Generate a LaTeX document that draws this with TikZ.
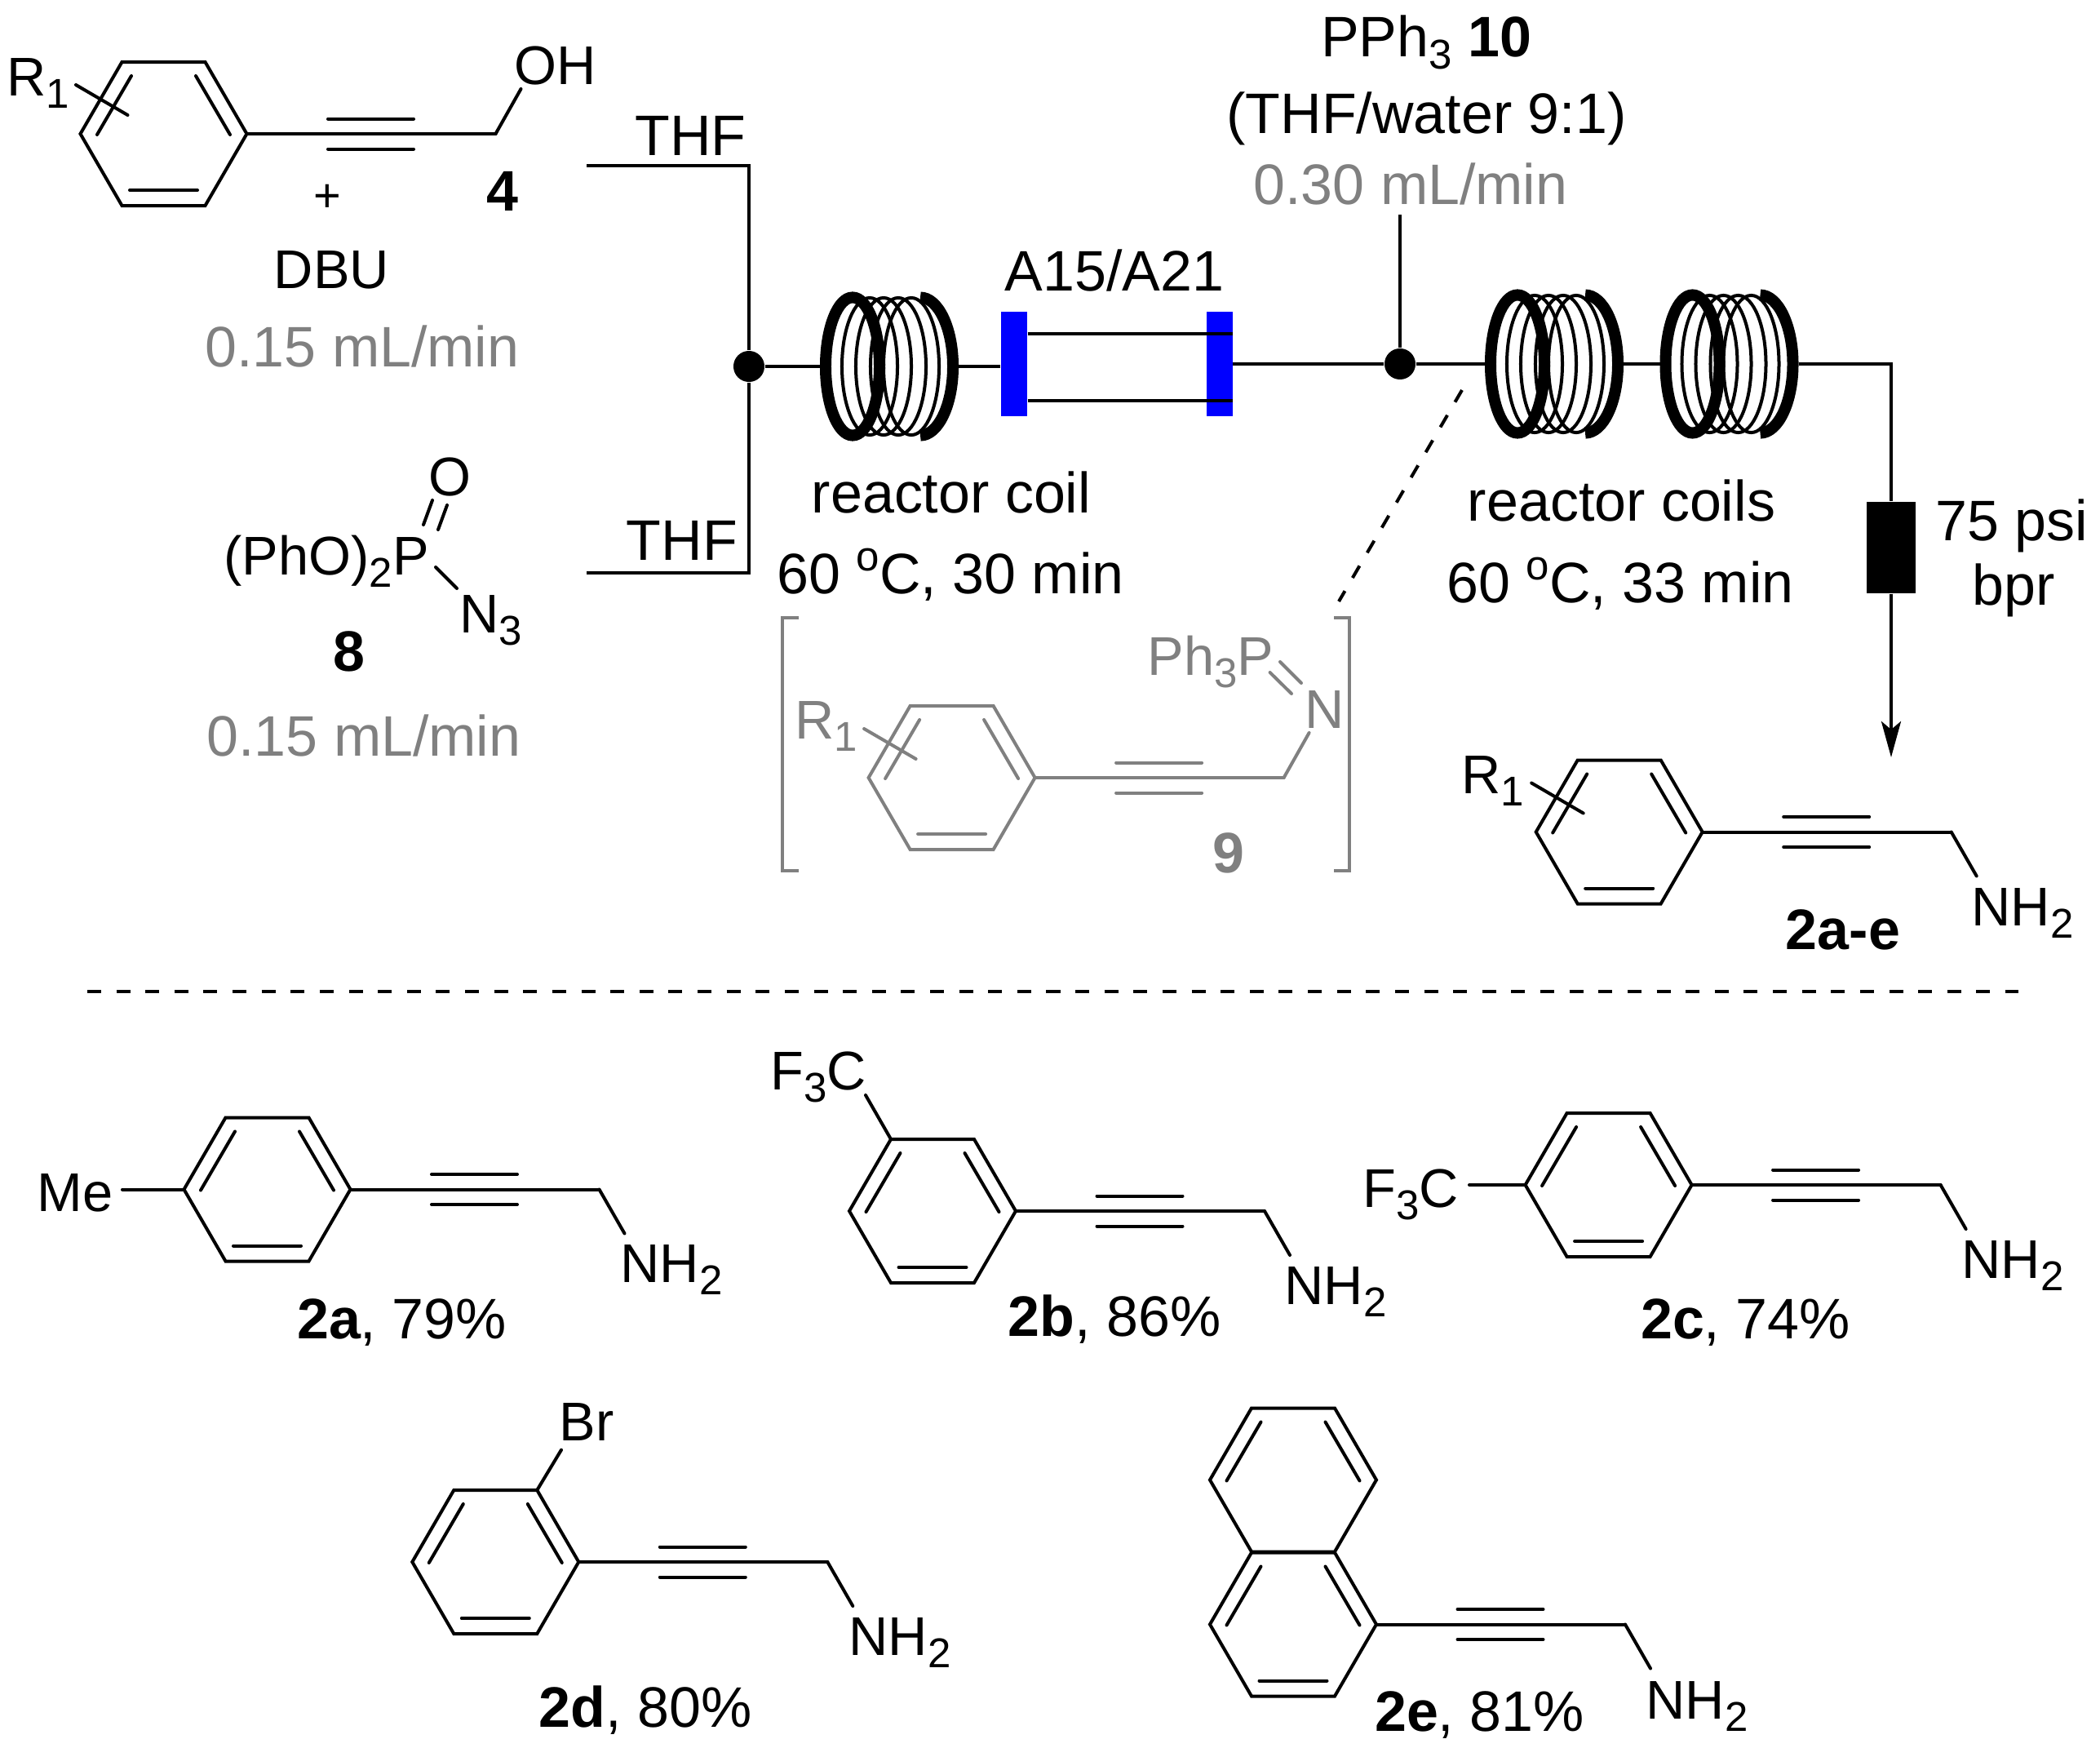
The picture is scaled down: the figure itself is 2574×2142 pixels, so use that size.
\documentclass[tikz,border=0pt]{standalone}
\usepackage{fontspec}
\setmainfont{Liberation Sans}
\usetikzlibrary{arrows.meta}
\newcommand{\lowsub}[1]{\raisebox{-.15cm}{\fontsize{14.5}{14}\selectfont #1}}
\newcommand{\degsign}{\raisebox{.27cm}{\fontsize{14.5}{14}\selectfont o}}
\definecolor{chemgrey}{HTML}{808080}
\begin{document}
\begin{tikzpicture}
	    [x=.01cm, y=-.01cm,
	    bond/.style={line width=.04cm, line cap=round},
	    flow/.style={line width=.04cm},
	    chem/.style={inner sep=0pt, anchor=base west, font=\fontsize{19}{22}\selectfont},
	    legend/.style={inner sep=0pt, anchor=base, font=\fontsize{19.9}{22}\selectfont},
	    joint/.style={circle, fill=black, inner sep=0pt, minimum size=.38cm},
	    resin/.style={fill=blue, inner sep=0pt, minimum width=.32cm, minimum height=1.28cm},
	    cutdash/.style={line width=.04cm, dash pattern=on .17cm off .186cm},
	    ring/.pic={
	        \coordinate (-tl) at (-51,-88);
	        \coordinate (-tr) at (51,-88);
	        \coordinate (-right) at (102,0);
	        \coordinate (-left) at (-102,0);
	        \coordinate (-xa) at (-107.5,-60);
	        \coordinate (-xb) at (-44,-23);
	        \draw[bond, line cap=butt] (-51,-88) -- (51,-88) -- (102,0) -- (51,88) -- (-51,88) -- (-102,0) -- cycle;
	        \draw[bond] (-39.5,-71) -- (-81.5,1);
	        \draw[bond] (39.5,-71) -- (81.5,1);
	    },
	    lowbond/.pic={\draw[bond] (-41.5,69) -- (41.5,69);},
	    chain/.pic={
	        \coordinate (-end) at (305,0);
	        \coordinate (-up) at (336,-55);
	        \coordinate (-down) at (336,54);
	        \draw[bond] (0,0) -- (305,0);
	        \draw[bond] (99.5,-18.5) -- (204.5,-18.5);
	        \draw[bond] (99.5,18.5) -- (204.5,18.5);
	    },
	    coil/.pic={
	        \coordinate (-in) at (-40,0);
	        \coordinate (-out) at (130,0);
	        \foreach \cx in {21,38,56,72}
	            \draw[line width=.04cm] (\cx,0) ellipse [x radius=.34cm, y radius=.84cm];
	        \draw[line width=.14cm] (0,0) ellipse [x radius=.33cm, y radius=.845cm];
	        \draw[line width=.14cm] (83,-84.5) arc [start angle=90, end angle=-90, x radius=.4cm, y radius=.845cm];
	    }]
	    \useasboundingbox (0,0) rectangle (2574,2142);
	    % flow path
	    \coordinate (feedA) at (719,203);
	    \coordinate (feedB) at (719,702);
	    \coordinate (feedC) at (1716,263);
	    \coordinate (turn) at (2318,446);
	    \coordinate (tip) at (2318,928);
	    \node[joint] (mixA) at (918,449) {};
	    \node[joint] (mixB) at (1716,446) {};
	    \pic (coilA) at (1045,449) {coil};
	    \pic (coilB) at (1860,446) {coil};
	    \pic (coilC) at (2074.5,446) {coil};
	    \node[resin] (resinL) at (1243,446) {};
	    \node[resin] (resinR) at (1494.6,446) {};
	    \node[fill=black, inner sep=0pt, minimum width=.6cm, minimum height=1.12cm] (bpr) at (2318,671) {};
	    \draw[flow] (feedA) -| (mixA);
	    \draw[flow] (feedB) -| (mixA);
	    \draw[flow] (mixA) -- (coilA-in);
	    \draw[flow] (coilA-out) -- (coilA-out -| resinL.west);
	    \draw[flow] ([yshift=.37cm]resinL.east) -- ([yshift=.37cm]resinR.east);
	    \draw[flow] ([yshift=-.45cm]resinL.east) -- ([yshift=-.45cm]resinR.east);
	    \draw[flow] (resinR) -- (mixB);
	    \draw[flow] (feedC) -- (mixB);
	    \draw[flow] (mixB) -- (coilB-in);
	    \draw[flow] (coilB-out) -- (coilC-in);
	    \draw[flow] (coilC-out) -- (turn) -- (bpr);
	    \draw[flow, -{Stealth[length=.44cm, width=.24cm, inset=.1cm]}] (bpr) -- (tip);
	    % flow labels
	    \node[legend] (THF1) at (846.5,190) {THF};
	    \node[legend] (THF2) at (836,686) {THF};
	    \node[legend] (PPh) at (1748,69) {PPh\lowsub{3} \textbf{10}};
	    \node[legend] (solv) at (1748.5,163) {(THF/water 9:1)};
	    \node[legend, chemgrey] (rateC) at (1729,250) {0.30 mL/min};
	    \node[legend] (A15) at (1366,356) {A15/A21};
	    \node[legend] (coil1) at (1166,628) {reactor coil};
	    \node[legend] (temp1) at (1165,727) {60 \degsign{}C, 30 min};
	    \node[legend] (coil2) at (1987.5,638) {reactor coils};
	    \node[legend] (temp2) at (1986,738) {60 \degsign{}C, 33 min};
	    \node[legend] (psi) at (2466,662) {75 psi};
	    \node[legend] (bprtxt) at (2468,741) {bpr};
	    % alcohol 4
	    \pic (r4) at (200.5,164) {ring};
	    \pic (l4) at (200.5,164) {lowbond};
	    \pic (c4) at (r4-right) {chain};
	    \draw[bond] (r4-xa) -- (r4-xb);
	    \draw[bond] (c4-end) -- (c4-up);
	    \node[chem] (R4) at (8,117) {R\lowsub{1}};
	    \node[chem] (OH4) at (630,103) {OH};
	    \node[legend] (n4) at (616,258) {\textbf{4}};
	    \node[inner sep=0pt, font=\fontsize{16.4}{18}\selectfont] (plus) at (401.5,243) {+};
	    \node[chem, anchor=base] (DBU) at (406.5,353) {DBU};
	    \node[legend, chemgrey] (rateA) at (444,449) {0.15 mL/min};
	    % azide 8
	    \node[chem] (P8) at (274,704) {(PhO)\lowsub{2}P};
	    \node[chem] (O8) at (525,607) {O};
	    \node[chem] (N8) at (563,775) {N\lowsub{3}};
	    \coordinate (poa) at (530,613);
	    \coordinate (pob) at (519,643);
	    \coordinate (poc) at (548,619);
	    \coordinate (pod) at (537,649);
	    \coordinate (pna) at (534,695);
	    \coordinate (pnb) at (560,721);
	    \draw[bond] (poa) -- (pob);
	    \draw[bond] (poc) -- (pod);
	    \draw[bond] (pna) -- (pnb);
	    \node[legend] (n8) at (427.5,822) {\textbf{8}};
	    \node[legend, chemgrey] (rateB) at (446,926.5) {0.15 mL/min};
	    % intermediate 9
	    \coordinate (cutA) at (1792,478);
	    \coordinate (cutB) at (1641,737);
	    \draw[cutdash] (cutA) -- (cutB);
	    \begin{scope}[color=chemgrey]
	    \pic (r9) at (1166.6,953) {ring};
	    \pic (l9) at (1166.6,953) {lowbond};
	    \pic (c9) at (r9-right) {chain};
	    \draw[bond] (r9-xa) -- (r9-xb);
	    \draw[bond] (c9-end) -- (c9-up);
	    \node[chem] (R9) at (974,905) {R\lowsub{1}};
	    \node[chem] (PPh9) at (1406,827) {Ph\lowsub{3}P};
	    \node[chem] (N9) at (1599,892) {N};
	    \coordinate (pia) at (1569,811);
	    \coordinate (pib) at (1595,837);
	    \coordinate (pic) at (1556.6,824);
	    \coordinate (pid) at (1583,850);
	    \draw[bond] (pia) -- (pib);
	    \draw[bond] (pic) -- (pid);
	    \node[legend] (n9) at (1506,1069) {\textbf{9}};
	    \draw[bond, line cap=butt] (979,757) -- (959.4,757) -- (959.4,1067) -- (979,1067);
	    \draw[bond, line cap=butt] (1635,757) -- (1654,757) -- (1654,1067) -- (1635,1067);
	    \end{scope}
	    % product 2a-e
	    \pic (r2) at (1984.7,1019.5) {ring};
	    \pic (l2) at (1984.7,1019.5) {lowbond};
	    \pic (c2) at (r2-right) {chain};
	    \draw[bond] (r2-xa) -- (r2-xb);
	    \draw[bond] (c2-end) -- (c2-down);
	    \node[chem] (R2) at (1791,972) {R\lowsub{1}};
	    \node[chem] (NH2) at (2416,1134.6) {NH\lowsub{2}};
	    \node[legend] (n2) at (2259,1163) {\textbf{2a-e}};
	    % divider
	    \coordinate (ruleL) at (107,1215);
	    \coordinate (ruleR) at (2474,1215);
	    \draw[cutdash] (ruleL) -- (ruleR);
	    % 2a
	    \pic (ra) at (327.5,1457.5) {ring};
	    \pic (la) at (327.5,1457.5) {lowbond};
	    \pic (ca) at (ra-right) {chain};
	    \coordinate (Mea) at (150,1457.5);
	    \draw[bond] (Mea) -- (ra-left);
	    \draw[bond] (ca-end) -- (ca-down);
	    \node[chem] (Me) at (45,1484) {Me};
	    \node[chem] (NHa) at (760,1571.7) {NH\lowsub{2}};
	    \node[legend] (na) at (492.5,1640) {\textbf{2a}, 79\%};
	    % 2b
	    \pic (rb) at (1143,1484) {ring};
	    \pic (lb) at (1143,1484) {lowbond};
	    \pic (cb) at (rb-right) {chain};
	    \coordinate (CFb) at (1061,1342);
	    \draw[bond] (CFb) -- (rb-tl);
	    \draw[bond] (cb-end) -- (cb-down);
	    \node[chem] (F3b) at (944,1335) {F\lowsub{3}C};
	    \node[chem] (NHb) at (1574,1598) {NH\lowsub{2}};
	    \node[legend] (nb) at (1366,1637) {\textbf{2b}, 86\%};
	    % 2c
	    \pic (rc) at (1971.6,1452) {ring};
	    \pic (lc) at (1971.6,1452) {lowbond};
	    \pic (cc) at (rc-right) {chain};
	    \coordinate (CFc) at (1801,1452);
	    \draw[bond] (CFc) -- (rc-left);
	    \draw[bond] (cc-end) -- (cc-down);
	    \node[chem] (F3c) at (1670,1479) {F\lowsub{3}C};
	    \node[chem] (NHc) at (2404,1566.7) {NH\lowsub{2}};
	    \node[legend] (nc) at (2139.5,1640) {\textbf{2c}, 74\%};
	    % 2d
	    \pic (rd) at (607.3,1914) {ring};
	    \pic (ld) at (607.3,1914) {lowbond};
	    \pic (cd) at (rd-right) {chain};
	    \coordinate (Brd) at (688,1776.7);
	    \draw[bond] (Brd) -- (rd-tr);
	    \draw[bond] (cd-end) -- (cd-down);
	    \node[chem] (Br) at (685,1765) {Br};
	    \node[chem] (NHd) at (1040,2028) {NH\lowsub{2}};
	    \node[legend] (nd) at (791,2116.7) {\textbf{2d}, 80\%};
	    % 2e
	    \pic (ru) at (1585,1813.5) {ring};
	    \pic (re) at (1585,1990.5) {ring};
	    \pic (le) at (1585,1990.5) {lowbond};
	    \pic (ce) at (re-right) {chain};
	    \draw[bond] (ce-end) -- (ce-down);
	    \node[chem] (NHe) at (2017,2106) {NH\lowsub{2}};
	    \node[legend] (ne) at (1813.5,2121.7) {\textbf{2e}, 81\%};
\end{tikzpicture}
\end{document}
